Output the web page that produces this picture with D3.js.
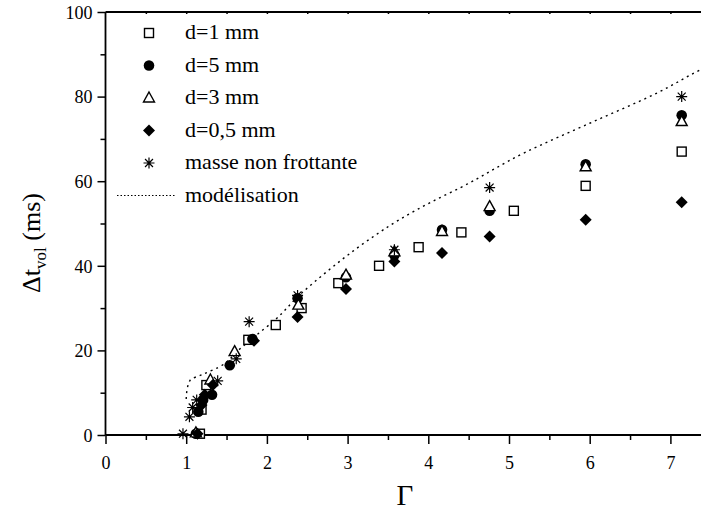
<!DOCTYPE html>
<html>
<head>
<meta charset="UTF-8">
<title>Temps de vol</title>
<script src="https://cdn.jsdelivr.net/npm/d3@7"></script>
<style>
  body { margin: 0; background: #fff; }
  svg { display: block; }
</style>
</head>
<body>
<div id="chart"></div>
<script>
// Γ (x) and Δt_vol in ms (y) for each series
const squareG = [1.17, 1.19, 1.25, 1.77, 2.11, 2.43, 2.885, 3.39, 3.88, 4.41, 5.06, 5.95, 7.14];
const squareV = [0.3, 6.0, 11.8, 22.5, 26.0, 30.0, 35.9, 40.0, 44.4, 47.9, 53.0, 58.9, 67.0];

const circleG = [1.12, 1.15, 1.21, 1.32, 1.54, 1.82, 2.38, 2.98, 3.58, 4.17, 4.76, 5.95, 7.14];
const circleV = [0.3, 5.5, 8.3, 9.5, 16.5, 22.7, 32.3, 37.3, 42.5, 48.5, 53.0, 64.0, 75.6];

const triangleG = [1.12, 1.30, 1.60, 2.39, 2.98, 3.58, 4.17, 4.76, 5.95, 7.14];
const triangleV = [0.5, 13.0, 19.7, 30.7, 37.8, 43.3, 48.1, 54.0, 63.4, 74.1];

const diamondG = [1.14, 1.19, 1.23, 1.33, 1.84, 2.38, 2.98, 3.58, 4.17, 4.76, 5.95, 7.14];
const diamondV = [0.3, 7.1, 9.5, 11.8, 22.3, 27.9, 34.5, 41.0, 43.0, 46.9, 50.9, 55.0];

const starG = [0.96, 1.04, 1.08, 1.13, 1.39, 1.62, 1.78, 2.38, 3.58, 4.76, 7.14];
const starV = [0.3, 4.3, 6.5, 8.3, 12.8, 18.0, 26.8, 33.0, 43.8, 58.5, 80.0];

// modelling curve
const modelG = [1.0, 1.01, 1.05, 1.2, 1.4, 1.65, 1.85, 2.1, 2.4, 2.8, 3.25, 3.65, 4.05, 4.4, 5.2, 6.0, 6.85, 7.37, 7.5];
const modelV = [8.5, 10.6, 13.0, 14.3, 16.0, 20.1, 23.3, 27.2, 33.0, 39.5, 46.0, 51.0, 55.2, 58.5, 66.8, 73.7, 81.0, 86.3, 87.5];

const xTicks = [0, 1, 2, 3, 4, 5, 6, 7];
const yTicks = [0, 20, 40, 60, 80, 100];

const legendLabels = ["d=1 mm", "d=5 mm", "d=3 mm", "d=0,5 mm", "masse non frottante", "modélisation"];

const W = 701, H = 513;
const mLeft = 105.5, mTop = 12, mBottom = 435;
const FONT = "'Liberation Serif', 'Times New Roman', serif";

const x = d3.scaleLinear().domain([0, 7.5]).range([mLeft, mLeft + 7.5 * 80.7]);
const y = d3.scaleLinear().domain([0, 100]).range([mBottom, mTop]);

const svg = d3.select("#chart").append("svg")
  .attr("width", W).attr("height", H);

const zip = (g, v) => g.map((d, i) => ({ g: d, v: v[i] }));

// markers
function drawMarker(sel, type) {
  if (type === "square") {
    sel.append("rect").attr("x", -4.5).attr("y", -4.5).attr("width", 9).attr("height", 9)
      .attr("fill", "#fff").attr("stroke", "#000").attr("stroke-width", 1.4);
  } else if (type === "circle") {
    sel.append("circle").attr("r", 5.3).attr("fill", "#000");
  } else if (type === "triangle") {
    sel.append("path").attr("d", "M0,-6L5.5,4L-5.5,4Z")
      .attr("fill", "#fff").attr("stroke", "#000").attr("stroke-width", 1.4);
  } else if (type === "diamond") {
    sel.append("path").attr("d", "M0,-6L6,0L0,6L-6,0Z").attr("fill", "#000");
  } else if (type === "star") {
    const r = 5.5, k = r * 0.72;
    sel.append("path")
      .attr("d", `M${-r},0L${r},0M0,${-r}L0,${r}M${-k},${-k}L${k},${k}M${-k},${k}L${k},${-k}`)
      .attr("stroke", "#000").attr("stroke-width", 1.2).attr("fill", "none");
  }
}

// axes
const xAxis = svg.append("g").attr("transform", `translate(0,${mBottom})`);
xAxis.call(d3.axisBottom(x).tickValues(d3.range(0.5, 7.5, 1)).tickSize(5).tickFormat(""));
xAxis.call(g => g.append("g").call(d3.axisBottom(x).tickValues(xTicks).tickSize(9).tickFormat(d3.format("d"))));
xAxis.selectAll(".domain").remove();

const yAxis = svg.append("g").attr("transform", `translate(${mLeft},0)`);
yAxis.call(d3.axisLeft(y).tickValues(d3.range(10, 100, 20)).tickSize(5).tickFormat(""));
yAxis.call(g => g.append("g").call(d3.axisLeft(y).tickValues(yTicks).tickSize(8).tickFormat(d3.format("d"))));
yAxis.selectAll(".domain").remove();

const topAxis = svg.append("g").attr("transform", `translate(0,${mTop})`);
topAxis.call(d3.axisBottom(x).tickValues(d3.range(0.5, 7.5, 0.5)).tickSize(2).tickFormat(""));
topAxis.selectAll(".domain").remove();

svg.selectAll(".tick line").attr("stroke", "#000").attr("stroke-width", 1.5);
svg.selectAll(".tick text").attr("fill", "#000")
  .style("font-size", "18px").style("font-family", FONT);
xAxis.selectAll(".tick text").attr("dy", 0).attr("y", 34);
yAxis.selectAll(".tick text").attr("x", -13).attr("dy", "0.35em");

// frame lines
svg.append("line").attr("x1", mLeft).attr("x2", W).attr("y1", mBottom).attr("y2", mBottom)
  .attr("stroke", "#000").attr("stroke-width", 1.8);
svg.append("line").attr("x1", mLeft).attr("x2", W).attr("y1", mTop).attr("y2", mTop)
  .attr("stroke", "#000").attr("stroke-width", 1.8);
svg.append("line").attr("x1", mLeft).attr("x2", mLeft).attr("y1", mTop).attr("y2", mBottom)
  .attr("stroke", "#000").attr("stroke-width", 1.8);

// model curve
svg.append("path").datum(zip(modelG, modelV))
  .attr("d", d3.line().x(d => x(d.g)).y(d => y(d.v)).curve(d3.curveMonotoneY))
  .attr("fill", "none").attr("stroke", "#000").attr("stroke-width", 1.4)
  .attr("stroke-dasharray", "2,4");

// points
const series = [
  { type: "square", data: zip(squareG, squareV) },
  { type: "circle", data: zip(circleG, circleV) },
  { type: "triangle", data: zip(triangleG, triangleV) },
  { type: "diamond", data: zip(diamondG, diamondV) },
  { type: "star", data: zip(starG, starV) }
];
series.forEach(s => {
  svg.append("g").selectAll("g").data(s.data).join("g")
    .attr("transform", d => `translate(${x(d.g)},${y(d.v)})`)
    .each(function () { drawMarker(d3.select(this), s.type); });
});

// legend
const legend = svg.append("g");
legendLabels.forEach((lab, i) => {
  const yy = 33 + i * 32.5;
  const item = legend.append("g").attr("transform", `translate(149,${yy})`);
  if (i < 5) {
    drawMarker(item, series[i].type);
  } else {
    item.append("line").attr("x1", -32).attr("x2", 26).attr("y1", 0).attr("y2", 0)
      .attr("stroke", "#000").attr("stroke-width", 1).attr("stroke-dasharray", "1.5,2");
  }
  item.append("text").attr("x", 36).attr("y", 6).text(lab)
    .style("font-size", "22px").style("font-family", FONT).attr("fill", "#000");
});

// axis titles
svg.append("text").attr("x", 405).attr("y", 505).attr("text-anchor", "middle")
  .style("font-size", "29px").style("font-family", FONT).text("Γ");

const yl = svg.append("text").attr("transform", "translate(40,243) rotate(-90)")
  .attr("text-anchor", "middle").style("font-size", "26px").style("font-family", FONT);
yl.append("tspan").text("Δt");
yl.append("tspan").attr("dy", 6).style("font-size", "17px").text("vol");
yl.append("tspan").attr("dy", -6).text(" (ms)");
</script>
</body>
</html>
